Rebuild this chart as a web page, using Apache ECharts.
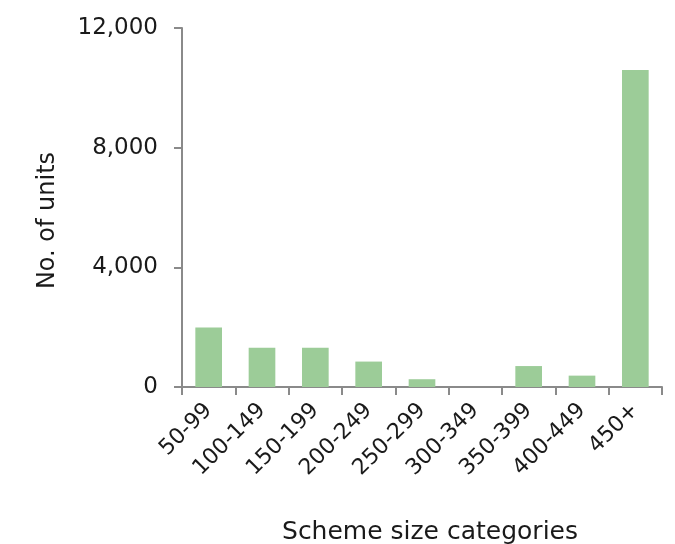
<!DOCTYPE html>
<html>
<head>
<meta charset="utf-8">
<script src="https://cdn.jsdelivr.net/npm/echarts@6/dist/echarts.min.js"></script>
<style>html,body{margin:0;padding:0;background:#fff;}#c{width:675px;height:544px;}</style>
</head>
<body>
<div id="c"></div>
<script>
const categories = ['50-99','100-149','150-199','200-249','250-299','300-349','350-399','400-449','450+'];
const units = [1990, 1310, 1310, 850, 260, 0, 700, 380, 10600];
const yTicks = [0, 4000, 8000, 12000];

const chart = echarts.init(document.getElementById('c'));
const font = 'DejaVu Sans';
chart.setOption({
  animation: false,
  grid: { left: 182, right: 13, top: 28, bottom: 157, containLabel: false, outerBoundsMode: 'none' },
  xAxis: {
    type: 'category',
    data: categories,
    name: 'Scheme size categories',
    nameLocation: 'middle',
    nameGap: 133,
    nameTextStyle: { fontFamily: font, fontSize: 25, color: '#1a1a1a', padding: [0, 0, 0, 16] },
    axisLine: { lineStyle: { color: '#8a8a8a', width: 2 } },
    axisTick: { show: true, alignWithLabel: false, length: 8, lineStyle: { color: '#8a8a8a', width: 2 } },
    axisLabel: { rotate: 45, fontFamily: font, fontSize: 22, color: '#1a1a1a', margin: 20, interval: 0 }
  },
  yAxis: {
    type: 'value',
    min: 0, max: yTicks[yTicks.length - 1], interval: 4000,
    name: 'No. of units',
    nameLocation: 'middle',
    nameGap: 122,
    nameTextStyle: { fontFamily: font, fontSize: 24, color: '#1a1a1a', padding: [0, 0, 0, -26] },
    axisLine: { show: true, lineStyle: { color: '#8a8a8a', width: 2 } },
    axisTick: { show: true, length: 8, lineStyle: { color: '#8a8a8a', width: 2 } },
    splitLine: { show: false },
    axisLabel: {
      fontFamily: font, fontSize: 23, color: '#1a1a1a', margin: 24,
      formatter: v => v.toLocaleString('en-US')
    }
  },
  series: [{
    type: 'bar',
    data: units,
    barWidth: '50%',
    itemStyle: { color: '#9ccc98' }
  }]
});
</script>
</body>
</html>
